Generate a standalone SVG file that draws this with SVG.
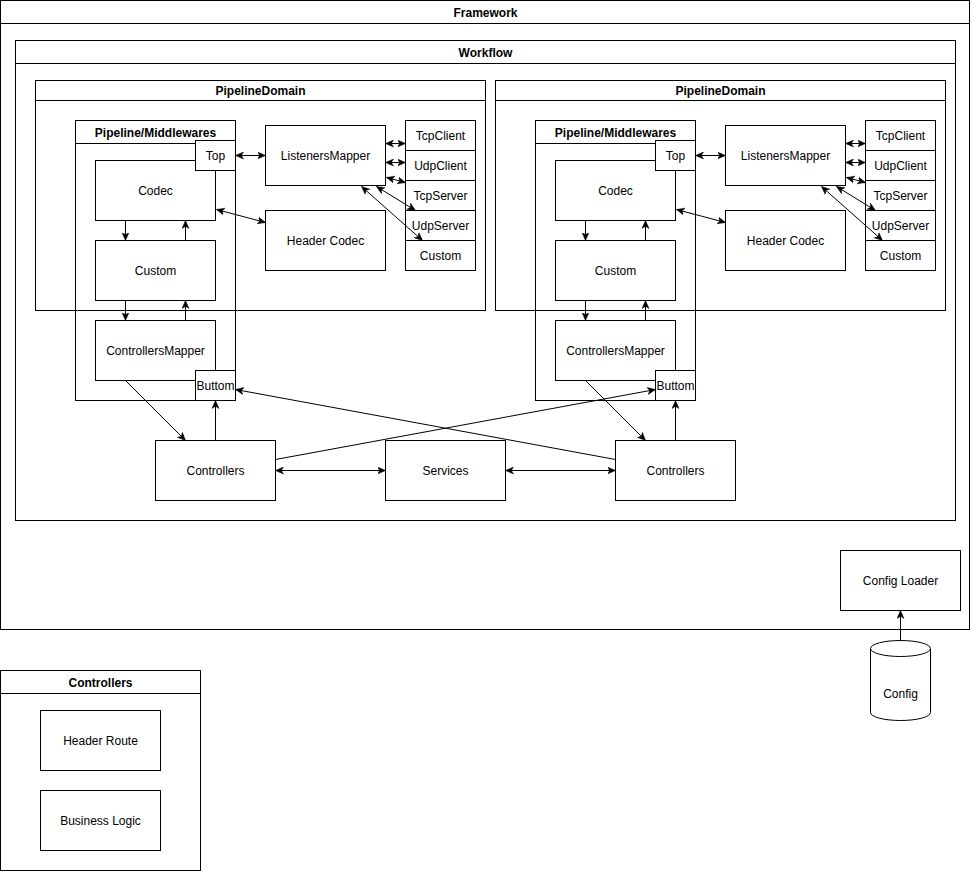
<svg xmlns="http://www.w3.org/2000/svg" width="972" height="872" viewBox="0 0 972 872">
<style>
.b{fill:#fff;stroke:#000;stroke-width:1}
.c{fill:none;stroke:#000;stroke-width:1}
.t{font-family:"Liberation Sans",Arial,Helvetica,sans-serif;font-size:12px;text-anchor:middle;fill:#000}
.h{font-weight:bold}
.e{fill:none;stroke:#000;stroke-width:1}
.a{marker-end:url(#ah)}
.aa{marker-start:url(#ah);marker-end:url(#ah)}
</style>
<defs>
<marker id="ah" viewBox="0 0 8 8" refX="8" refY="4" markerWidth="8" markerHeight="8" markerUnits="userSpaceOnUse" orient="auto-start-reverse">
<path d="M0,0.5 L8,4 L0,7.5 L2.2,4 Z" fill="#000" stroke="#000" stroke-width="0.5"/>
</marker>
</defs>
<rect x="0" y="0" width="972" height="872" fill="#fff"/>
<g transform="translate(0.5,0.5)">
<g id="framework"><rect class="b" x="0" y="0" width="969" height="629"/><line class="c" x1="0" y1="23" x2="969" y2="23"/><text class="t h" x="485" y="16">Framework</text></g>
<g id="workflow"><rect class="c" x="15" y="40" width="940" height="480"/><line class="c" x1="15" y1="63" x2="955" y2="63"/><text class="t h" x="485" y="56">Workflow</text></g>
<g id="pipelinedomain-left"><rect class="c" x="35" y="80" width="450" height="230"/><line class="c" x1="35" y1="100" x2="485" y2="100"/><text class="t h" x="260" y="94">PipelineDomain</text></g>
<g id="pipelinedomain-right"><rect class="c" x="495" y="80" width="450" height="230"/><line class="c" x1="495" y1="100" x2="945" y2="100"/><text class="t h" x="720" y="94">PipelineDomain</text></g>
<g id="pipeline-left"><rect class="c" x="75" y="120" width="160" height="280"/><line class="c" x1="75" y1="143" x2="235" y2="143"/><text class="t h" x="155" y="136">Pipeline/Middlewares</text></g>
<g id="pipeline-right"><rect class="c" x="535" y="120" width="160" height="280"/><line class="c" x1="535" y1="143" x2="695" y2="143"/><text class="t h" x="615" y="136">Pipeline/Middlewares</text></g>
<g id="codec-left"><rect class="b" x="95" y="160" width="120" height="60"/><text class="t" x="155" y="194">Codec</text></g>
<g id="top-left"><rect class="b" x="195" y="140" width="40" height="30"/><text class="t" x="215" y="159">Top</text></g>
<g id="custom-left"><rect class="b" x="95" y="240" width="120" height="60"/><text class="t" x="155" y="274">Custom</text></g>
<g id="controllersmapper-left"><rect class="b" x="95" y="320" width="120" height="60"/><text class="t" x="155" y="354">ControllersMapper</text></g>
<g id="buttom-left"><rect class="b" x="195" y="370" width="40" height="30"/><text class="t" x="215" y="389">Buttom</text></g>
<g id="listenersmapper-left"><rect class="b" x="265" y="125" width="120" height="60"/><text class="t" x="325" y="159">ListenersMapper</text></g>
<g id="headercodec-left"><rect class="b" x="265" y="210" width="120" height="60"/><text class="t" x="325" y="244">Header Codec</text></g>
<g id="tcpclient-left"><rect class="b" x="405" y="120" width="70" height="30"/><text class="t" x="440" y="139">TcpClient</text></g>
<g id="udpclient-left"><rect class="b" x="405" y="150" width="70" height="30"/><text class="t" x="440" y="169">UdpClient</text></g>
<g id="tcpserver-left"><rect class="b" x="405" y="180" width="70" height="30"/><text class="t" x="440" y="199">TcpServer</text></g>
<g id="udpserver-left"><rect class="b" x="405" y="210" width="70" height="30"/><text class="t" x="440" y="229">UdpServer</text></g>
<g id="customlistener-left"><rect class="b" x="405" y="240" width="70" height="30"/><text class="t" x="440" y="259">Custom</text></g>
<g id="codec-right"><rect class="b" x="555" y="160" width="120" height="60"/><text class="t" x="615" y="194">Codec</text></g>
<g id="top-right"><rect class="b" x="655" y="140" width="40" height="30"/><text class="t" x="675" y="159">Top</text></g>
<g id="custom-right"><rect class="b" x="555" y="240" width="120" height="60"/><text class="t" x="615" y="274">Custom</text></g>
<g id="controllersmapper-right"><rect class="b" x="555" y="320" width="120" height="60"/><text class="t" x="615" y="354">ControllersMapper</text></g>
<g id="buttom-right"><rect class="b" x="655" y="370" width="40" height="30"/><text class="t" x="675" y="389">Buttom</text></g>
<g id="listenersmapper-right"><rect class="b" x="725" y="125" width="120" height="60"/><text class="t" x="785" y="159">ListenersMapper</text></g>
<g id="headercodec-right"><rect class="b" x="725" y="210" width="120" height="60"/><text class="t" x="785" y="244">Header Codec</text></g>
<g id="tcpclient-right"><rect class="b" x="865" y="120" width="70" height="30"/><text class="t" x="900" y="139">TcpClient</text></g>
<g id="udpclient-right"><rect class="b" x="865" y="150" width="70" height="30"/><text class="t" x="900" y="169">UdpClient</text></g>
<g id="tcpserver-right"><rect class="b" x="865" y="180" width="70" height="30"/><text class="t" x="900" y="199">TcpServer</text></g>
<g id="udpserver-right"><rect class="b" x="865" y="210" width="70" height="30"/><text class="t" x="900" y="229">UdpServer</text></g>
<g id="customlistener-right"><rect class="b" x="865" y="240" width="70" height="30"/><text class="t" x="900" y="259">Custom</text></g>
<g id="controllers-left"><rect class="b" x="155" y="440" width="120" height="60"/><text class="t" x="215" y="474">Controllers</text></g>
<g id="services"><rect class="b" x="385" y="440" width="120" height="60"/><text class="t" x="445" y="474">Services</text></g>
<g id="controllers-right"><rect class="b" x="615" y="440" width="120" height="60"/><text class="t" x="675" y="474">Controllers</text></g>
<g id="configloader"><rect class="b" x="840" y="550" width="120" height="60"/><text class="t" x="900" y="584">Config Loader</text></g>
<g id="config"><path class="b" d="M870,648 A30,8 0 0 1 930,648 L930,712 A30,8 0 0 1 870,712 Z"/><path class="e" d="M870,648 A30,8 0 0 0 930,648"/><text class="t" x="900" y="697">Config</text></g>
<g id="controllers-legend"><rect class="b" x="0" y="670" width="200" height="200"/><line class="c" x1="0" y1="693" x2="200" y2="693"/><text class="t h" x="100" y="686">Controllers</text></g>
<g id="headerroute"><rect class="b" x="40" y="710" width="120" height="60"/><text class="t" x="100" y="744">Header Route</text></g>
<g id="businesslogic"><rect class="b" x="40" y="790" width="120" height="60"/><text class="t" x="100" y="824">Business Logic</text></g>
<g id="connectors">
<line class="c aa" x1="235" y1="155" x2="265" y2="155"/>
<line class="c aa" x1="385" y1="143" x2="405" y2="143"/>
<line class="c aa" x1="385" y1="162" x2="405" y2="162"/>
<line class="c aa" x1="386" y1="177" x2="405" y2="182"/>
<line class="c aa" x1="376" y1="186" x2="415" y2="210"/>
<line class="c aa" x1="361" y1="186" x2="422" y2="240"/>
<line class="c aa" x1="216" y1="209" x2="265" y2="222"/>
<line class="c a" x1="125" y1="220" x2="125" y2="240"/>
<line class="c a" x1="185" y1="240" x2="185" y2="220"/>
<line class="c a" x1="125" y1="300" x2="125" y2="320"/>
<line class="c a" x1="185" y1="320" x2="185" y2="300"/>
<line class="c a" x1="125" y1="380" x2="185" y2="440"/>
<line class="c a" x1="215" y1="440" x2="215" y2="400"/>
<line class="c aa" x1="695" y1="155" x2="725" y2="155"/>
<line class="c aa" x1="845" y1="143" x2="865" y2="143"/>
<line class="c aa" x1="845" y1="162" x2="865" y2="162"/>
<line class="c aa" x1="846" y1="177" x2="865" y2="182"/>
<line class="c aa" x1="836" y1="186" x2="875" y2="210"/>
<line class="c aa" x1="821" y1="186" x2="882" y2="240"/>
<line class="c aa" x1="676" y1="209" x2="725" y2="222"/>
<line class="c a" x1="585" y1="220" x2="585" y2="240"/>
<line class="c a" x1="645" y1="240" x2="645" y2="220"/>
<line class="c a" x1="585" y1="300" x2="585" y2="320"/>
<line class="c a" x1="645" y1="320" x2="645" y2="300"/>
<line class="c a" x1="585" y1="380" x2="645" y2="440"/>
<line class="c a" x1="675" y1="440" x2="675" y2="400"/>
<line class="c a" x1="275" y1="459" x2="655" y2="389"/>
<line class="c a" x1="615" y1="459" x2="235" y2="389"/>
<line class="c aa" x1="275" y1="470" x2="385" y2="470"/>
<line class="c aa" x1="505" y1="470" x2="615" y2="470"/>
<line class="c a" x1="900" y1="640" x2="900" y2="610"/>
</g>
</g>
</svg>
